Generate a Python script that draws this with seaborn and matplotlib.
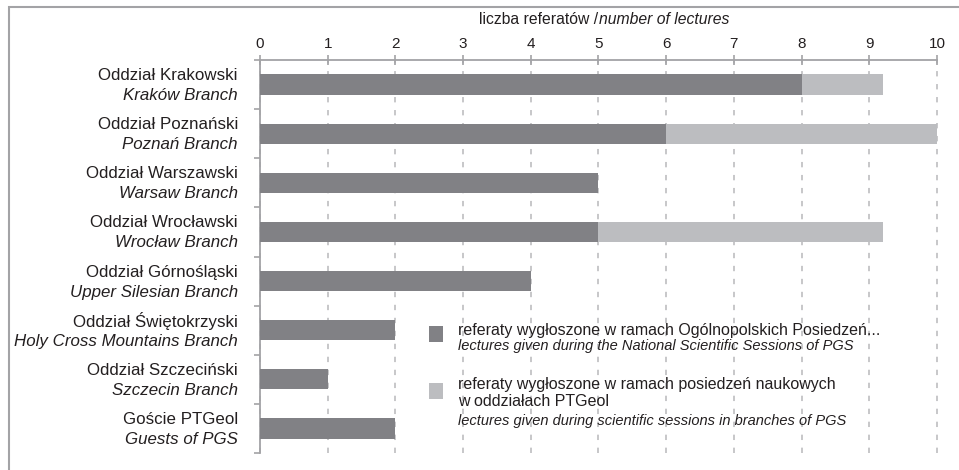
import matplotlib
matplotlib.use("Agg")
import matplotlib.pyplot as plt
from matplotlib.patches import Rectangle
from matplotlib.ticker import FixedLocator
import pandas as pd
import seaborn as sns

# data
branches_pl = ["Oddział Krakowski", "Oddział Poznański", "Oddział Warszawski",
               "Oddział Wrocławski", "Oddział Górnośląski", "Oddział Świętokrzyski",
               "Oddział Szczeciński", "Goście PTGeol"]
branches_en = ["Kraków Branch", "Poznań Branch", "Warsaw Branch", "Wrocław Branch",
               "Upper Silesian Branch", "Holy Cross Mountains Branch",
               "Szczecin Branch", "Guests of PGS"]
national = [8, 6, 5, 5, 4, 2, 1, 2]
branch_sessions = [1.2, 4.0, 0, 4.2, 0, 0, 0, 0]
xticks = list(range(0, 11))

legend_pl = ["referaty wygłoszone w ramach Ogólnopolskich Posiedzeń...",
             "referaty wygłoszone w ramach posiedzeń naukowych\nw oddziałach PTGeol"]
legend_en = ["lectures given during the National Scientific Sessions of PGS",
             "lectures given during scientific sessions in branches of PGS"]

DARK = "#818185"
LIGHT = "#bcbdc0"
GRAY = "#a3a3a6"
TXT = "#231f20"

df = pd.DataFrame({"branch": branches_pl, "national": national,
                   "sessions": branch_sessions})
df["total"] = df["national"] + df["sessions"]

sns.set_theme(style="white")
plt.rcParams["font.family"] = ["Liberation Sans", "DejaVu Sans"]

W, H = 959, 470
fig = plt.figure(figsize=(W / 100, H / 100), dpi=100)
ax = fig.add_axes([260 / W, 1 - 453 / H, 679 / W, 393 / H])


def fx(px):
    return px / W


def fy(py):
    return 1 - py / H


sns.barplot(data=df, x="total", y="branch", orient="h", color=LIGHT,
            saturation=1, width=0.41, linewidth=0, ax=ax, zorder=3)
sns.barplot(data=df, x="national", y="branch", orient="h", color=DARK,
            saturation=1, width=0.41, linewidth=0, ax=ax, zorder=4)

ax.set_xlim(0, 10.03)
ax.set_ylim(len(branches_pl) - 0.5, -0.5)
ax.xaxis.tick_top()
ax.set_xticks(xticks)
ax.set_xticklabels([str(t) for t in xticks])
ax.tick_params(axis="x", direction="inout", length=7, width=1.2, color=GRAY,
               labelsize=11, labelcolor=TXT, pad=3, top=True, bottom=False)
ax.set_xlabel("")
ax.set_ylabel("")

# y axis: ticks at category boundaries, labels drawn by hand
ax.set_yticks([])
ax.yaxis.set_minor_locator(FixedLocator([i - 0.5 for i in range(len(branches_pl) + 1)]))
ax.tick_params(axis="y", which="minor", direction="out", length=4, width=1.2,
               color=GRAY, left=True)

for s in ["right", "bottom"]:
    ax.spines[s].set_visible(False)
for s in ["top", "left"]:
    ax.spines[s].set_color(GRAY)
    ax.spines[s].set_linewidth(1.3)
ax.spines["top"].set_bounds(0, 10)

ax.set_axisbelow(True)
ax.xaxis.grid(True, color="#b8b8bb", linewidth=1.1, linestyle=(0, (3.5, 5.0)))
for gl in ax.get_xgridlines():
    gl.set_clip_on(False)

for i, (pl, en) in enumerate(zip(branches_pl, branches_en)):
    ax.annotate(pl, xy=(0, i), xytext=(-22, 9), textcoords="offset pixels",
                ha="right", va="center", fontsize=12.2, color=TXT,
                annotation_clip=False)
    ax.annotate(en, xy=(0, i), xytext=(-22, -11), textcoords="offset pixels",
                ha="right", va="center", fontsize=12.2, style="italic",
                color=TXT, annotation_clip=False)

# axis title, half upright, half italic
fig.text(fx(598), fy(20), "liczba referatów /", ha="right", va="center",
         fontsize=11.3, color=TXT)
fig.text(fx(599), fy(20), "number of lectures", ha="left", va="center",
         fontsize=11.3, style="italic", color=TXT)

# legend
for col, sq_y, pl_y, en_y, pl, en in [
        (DARK, 326, 330, 346, legend_pl[0], legend_en[0]),
        (LIGHT, 383, 393, 421, legend_pl[1], legend_en[1])]:
    fig.add_artist(Rectangle((fx(429), fy(sq_y + 16)), 14 / W, 16 / H,
                             transform=fig.transFigure, color=col, lw=0))
    fig.text(fx(458), fy(pl_y), pl, ha="left", va="center", fontsize=11.5,
             color=TXT, linespacing=1.12)
    fig.text(fx(458), fy(en_y), en, ha="left", va="center", fontsize=10.5,
             style="italic", color=TXT)

# outer frame
fig.add_artist(Rectangle((fx(9), fy(H + 10)), (W + 10) / W, (H + 3) / H,
                         transform=fig.transFigure, fill=False,
                         edgecolor=GRAY, lw=1.5, clip_on=False))

fig.savefig("out.png", dpi=100)
